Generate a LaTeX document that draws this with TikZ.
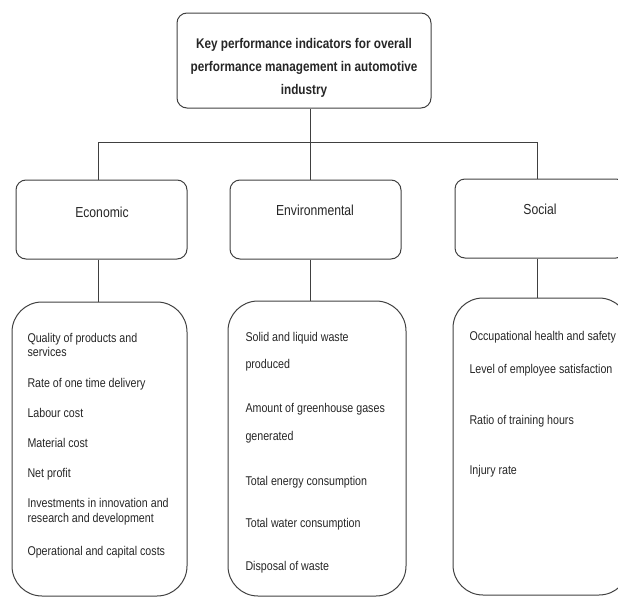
\documentclass[tikz,border=0pt]{standalone}
\usepackage{fontspec}
\setmainfont[FakeStretch=0.84]{Liberation Sans}
\usepackage{tikz}

\begin{document}
\begin{tikzpicture}[x=1pt, y=-1pt, line width=1pt,
		box/.style={draw=black!75, rounded corners=10pt, minimum width=171pt, minimum height=79pt, inner sep=0pt},
		listbox/.style={draw=black!75, rounded corners=30pt, inner sep=0pt},
		cat/.style={font=\fontsize{14.5}{16}\selectfont, text=black!85},
		item/.style={anchor=base west, inner sep=0pt, font=\fontsize{12.7}{14}\selectfont, text=black!85},
		link/.style={draw=black!75}]
		\useasboundingbox (0,0) rectangle (618,597);
		\clip (0,0) rectangle (618,597);
		\node [box, minimum width=254pt, minimum height=95pt] (root) at (304,60.5) {};
		\node [align=center, font=\bfseries\fontsize{14}{23}\selectfont, text=black!85] (title) at (304,68) {Key performance indicators for overall\\performance management in automotive\\industry};
		\node [box] (ecobox) at (101.5,219.5) {};
		\node [box] (envbox) at (315.5,219.5) {};
		\node [box] (socbox) at (540.5,218.5) {};
		\node [cat] (ecotext) at (102,212) {Economic};
		\node [cat] (envtext) at (315,210) {Environmental};
		\node [cat] (soctext) at (540,209) {Social};
		\node [listbox, minimum width=175pt, minimum height=294pt] (ecolist) at (99.5,449) {};
		\node [listbox, minimum width=178pt, minimum height=295pt] (envlist) at (317,448.5) {};
		\node [listbox, minimum width=176pt, minimum height=297pt] (soclist) at (541,446.5) {};
		\coordinate (ecoj) at (98,142);
		\coordinate (hub) at (310,142);
		\coordinate (socj) at (537,142);
		\draw [link] (ecoj |- ecobox.north) -- (ecoj) -- (socj) -- (socj |- socbox.north);
		\draw [link] (hub |- root.south) -- (hub |- envbox.north);
		\draw [link] (ecoj |- ecobox.south) -- (ecoj |- ecolist.north);
		\draw [link] (hub |- envbox.south) -- (hub |- envlist.north);
		\draw [link] (socj |- socbox.south) -- (socj |- soclist.north);
		\node [item] (eco1) at (27,342) {Quality of products and};
		\node [item] (eco2) at (27,356) {services};
		\node [item] (eco3) at (27,387) {Rate of one time delivery};
		\node [item] (eco4) at (27,417) {Labour cost};
		\node [item] (eco5) at (27,447) {Material cost};
		\node [item] (eco6) at (27,477) {Net profit};
		\node [item] (eco7) at (27,507) {Investments in innovation and};
		\node [item] (eco8) at (27,522) {research and development};
		\node [item] (eco9) at (27,555) {Operational and capital costs};
		\node [item] (env1) at (245,341) {Solid and liquid waste};
		\node [item] (env2) at (245,368) {produced};
		\node [item] (env3) at (245,412) {Amount of greenhouse gases};
		\node [item] (env4) at (245,440) {generated};
		\node [item] (env5) at (245,485) {Total energy consumption};
		\node [item] (env6) at (245,527) {Total water consumption};
		\node [item] (env7) at (245,570) {Disposal of waste};
		\node [item] (soc1) at (469,340) {Occupational health and safety};
		\node [item] (soc2) at (469,373) {Level of employee satisfaction};
		\node [item] (soc3) at (469,424) {Ratio of training hours};
		\node [item] (soc4) at (469,474) {Injury rate};
	\end{tikzpicture}
\end{document}
